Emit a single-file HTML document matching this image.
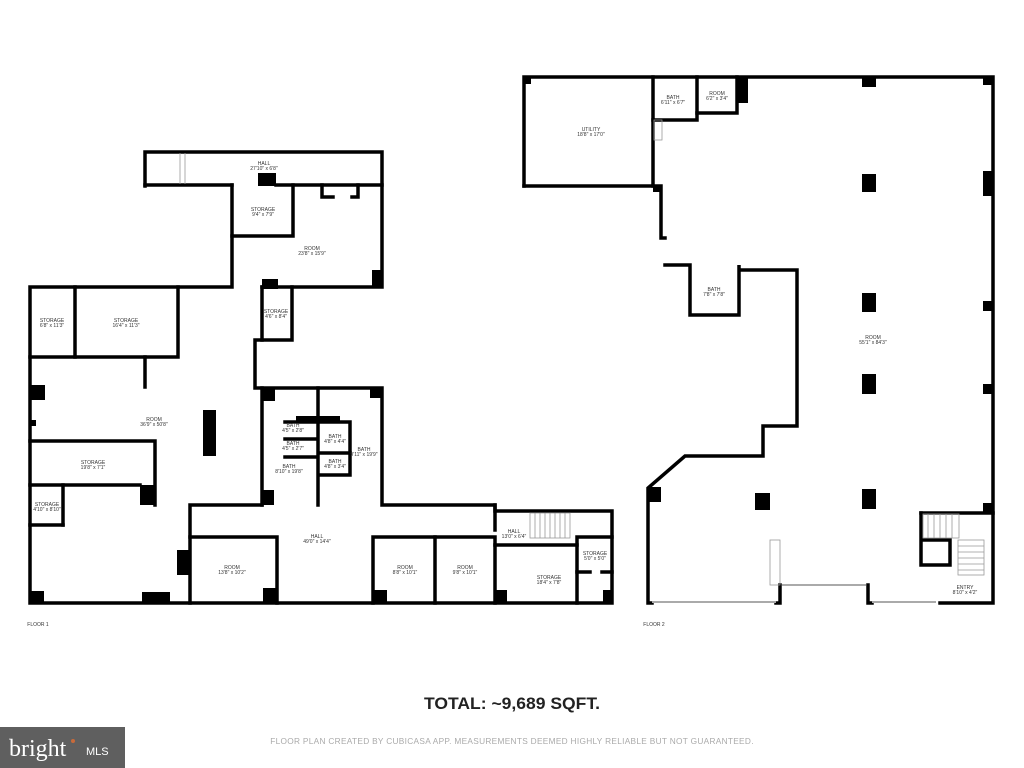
<!DOCTYPE html>
<html><head><meta charset="utf-8"><style>
html,body{margin:0;padding:0;background:#fff;}
body{width:1024px;height:768px;position:relative;overflow:hidden;font-family:"Liberation Sans",sans-serif;}
svg{position:absolute;left:0;top:0;}
.t{font-family:"Liberation Sans",sans-serif;font-size:5px;fill:#333;text-anchor:middle;}
</style></head><body>
<svg width="1024" height="768" viewBox="0 0 1024 768">
<g fill="none" stroke="#000" stroke-width="3.5" stroke-linecap="square">
<!-- FLOOR 1 -->
<polyline points="145,186 145,152 382,152 382,287 262,287"/>
<line x1="145" y1="185" x2="232" y2="185"/>
<line x1="276" y1="185" x2="382" y2="185"/>
<polyline points="232,185 232,287 30,287 30,603 612,603 612,511 495,511 495,505 382,505 382,388 255,388 255,340 292,340 292,287"/>
<line x1="262" y1="287" x2="262" y2="340"/>
<polyline points="232,236 293,236 293,185"/>
<polyline points="322,185 322,197 333,197"/>
<polyline points="352,197 358,197 358,185"/>
<polyline points="30,357 178,357 178,287"/>
<line x1="75" y1="287" x2="75" y2="357"/>
<line x1="145" y1="357" x2="145" y2="387"/>
<polyline points="30,441 155,441 155,505"/>
<line x1="30" y1="485" x2="140" y2="485"/>
<line x1="63" y1="485" x2="63" y2="525"/>
<line x1="30" y1="525" x2="63" y2="525"/>
<line x1="262" y1="388" x2="262" y2="505"/>
<line x1="318" y1="388" x2="318" y2="505"/>
<polyline points="285,422 316,422"/>
<polyline points="285,439 316,439"/>
<polyline points="285,457 316,457"/>
<polyline points="320,422 350,422 350,475 320,475"/>
<line x1="320" y1="453" x2="350" y2="453"/>
<polyline points="190,603 190,505 262,505"/>
<polyline points="190,537 277,537 277,603"/>
<polyline points="373,603 373,537 495,537 495,603"/>
<line x1="435" y1="537" x2="435" y2="603"/>
<line x1="495" y1="505" x2="495" y2="530"/>
<line x1="495" y1="545" x2="577" y2="545"/>
<polyline points="577,603 577,537 612,537"/>
<line x1="577" y1="572" x2="590" y2="572"/>
<line x1="602" y1="572" x2="612" y2="572"/>
<!-- FLOOR 2 -->
<polyline points="524,186 524,77 993,77 993,603 940,603"/>
<polyline points="524,186 653,186 653,77"/>
<polyline points="653,120 697,120 697,77"/>
<polyline points="697,113 737,113 737,77"/>
<polyline points="653,186 661,186 661,238 665,238"/>
<polyline points="665,265 690,265 690,315 739,315 739,265 739,270 797,270 797,426 763,426 763,456 685,456 648,488 648,603 652,603"/>
<polyline points="776,603 780,603 780,585"/>
<polyline points="868,585 868,603 872,603"/>
<polyline points="921,513 921,565 950,565 950,540 921,540"/>
<line x1="921" y1="513" x2="993" y2="513"/>
</g>
<g fill="#000">
<rect x="258" y="173" width="18" height="13"/>
<rect x="372" y="270" width="11" height="18"/>
<rect x="262" y="279" width="16" height="10"/>
<rect x="30" y="385" width="15" height="15"/>
<rect x="30" y="420" width="6" height="6"/>
<rect x="203" y="410" width="13" height="46"/>
<rect x="140" y="485" width="16" height="20"/>
<rect x="262" y="388" width="13" height="13"/>
<rect x="370" y="388" width="12" height="10"/>
<rect x="296" y="416" width="44" height="7"/>
<rect x="262" y="490" width="12" height="15"/>
<rect x="177" y="550" width="13" height="25"/>
<rect x="263" y="588" width="14" height="15"/>
<rect x="30" y="591" width="14" height="12"/>
<rect x="142" y="592" width="28" height="11"/>
<rect x="373" y="590" width="14" height="13"/>
<rect x="495" y="590" width="12" height="13"/>
<rect x="603" y="590" width="9" height="13"/>
<rect x="737" y="77" width="11" height="26"/>
<rect x="862" y="77" width="14" height="10"/>
<rect x="862" y="174" width="14" height="18"/>
<rect x="862" y="293" width="14" height="19"/>
<rect x="862" y="374" width="14" height="20"/>
<rect x="862" y="489" width="14" height="20"/>
<rect x="983" y="171" width="10" height="25"/>
<rect x="983" y="301" width="10" height="10"/>
<rect x="983" y="384" width="10" height="10"/>
<rect x="983" y="503" width="10" height="10"/>
<rect x="983" y="77" width="10" height="8"/>
<rect x="755" y="493" width="15" height="17"/>
<rect x="648" y="487" width="13" height="15"/>
<rect x="524" y="77" width="7" height="7"/>
<rect x="653" y="186" width="8" height="6"/>
</g>
<g fill="none" stroke="#999" stroke-width="0.8">
<rect x="770" y="540" width="10" height="45"/>
<rect x="530" y="513" width="40" height="25"/>
<line x1="535" y1="513" x2="535" y2="538"/><line x1="540" y1="513" x2="540" y2="538"/><line x1="545" y1="513" x2="545" y2="538"/><line x1="550" y1="513" x2="550" y2="538"/><line x1="555" y1="513" x2="555" y2="538"/><line x1="560" y1="513" x2="560" y2="538"/><line x1="565" y1="513" x2="565" y2="538"/>
<rect x="923" y="514" width="36" height="24"/>
<line x1="928" y1="514" x2="928" y2="538"/><line x1="934" y1="514" x2="934" y2="538"/><line x1="940" y1="514" x2="940" y2="538"/><line x1="946" y1="514" x2="946" y2="538"/><line x1="952" y1="514" x2="952" y2="538"/>
<rect x="958" y="540" width="26" height="35"/>
<line x1="958" y1="546" x2="984" y2="546"/><line x1="958" y1="552" x2="984" y2="552"/><line x1="958" y1="558" x2="984" y2="558"/><line x1="958" y1="564" x2="984" y2="564"/><line x1="958" y1="570" x2="984" y2="570"/>
<line x1="180" y1="153" x2="180" y2="184"/><line x1="185" y1="153" x2="185" y2="184"/>
<rect x="654" y="120" width="8" height="20"/>
</g>
<g fill="none" stroke="#aaa" stroke-width="2">
<line x1="652" y1="602" x2="776" y2="602"/>
<line x1="782" y1="585" x2="866" y2="585"/>
<line x1="872" y1="602" x2="936" y2="602"/>
</g>
<g class="t">
<text x="264" y="165">HALL</text><text x="264" y="170">27'10" x 6'8"</text>
<text x="263" y="211">STORAGE</text><text x="263" y="216">9'4" x 7'9"</text>
<text x="312" y="250">ROOM</text><text x="312" y="255">23'8" x 15'9"</text>
<text x="52" y="322">STORAGE</text><text x="52" y="327">6'8" x 11'3"</text>
<text x="126" y="322">STORAGE</text><text x="126" y="327">16'4" x 11'3"</text>
<text x="276" y="313">STORAGE</text><text x="276" y="318">4'6" x 8'4"</text>
<text x="154" y="421">ROOM</text><text x="154" y="426">36'9" x 50'8"</text>
<text x="93" y="464">STORAGE</text><text x="93" y="469">19'8" x 7'1"</text>
<text x="47" y="506">STORAGE</text><text x="47" y="511">4'10" x 8'10"</text>
<text x="293" y="427">BATH</text><text x="293" y="432">4'5" x 2'8"</text>
<text x="293" y="445">BATH</text><text x="293" y="450">4'5" x 2'7"</text>
<text x="289" y="468">BATH</text><text x="289" y="473">8'10" x 19'8"</text>
<text x="335" y="438">BATH</text><text x="335" y="443">4'8" x 4'4"</text>
<text x="335" y="463">BATH</text><text x="335" y="468">4'8" x 3'4"</text>
<text x="364" y="451">BATH</text><text x="364" y="456">9'11" x 19'9"</text>
<text x="317" y="538">HALL</text><text x="317" y="543">49'0" x 14'4"</text>
<text x="232" y="569">ROOM</text><text x="232" y="574">13'8" x 10'2"</text>
<text x="405" y="569">ROOM</text><text x="405" y="574">8'8" x 10'1"</text>
<text x="465" y="569">ROOM</text><text x="465" y="574">9'8" x 10'1"</text>
<text x="514" y="533">HALL</text><text x="514" y="538">13'0" x 6'4"</text>
<text x="595" y="555">STORAGE</text><text x="595" y="560">5'0" x 5'0"</text>
<text x="549" y="579">STORAGE</text><text x="549" y="584">18'4" x 7'8"</text>
<text x="591" y="131">UTILITY</text><text x="591" y="136">18'8" x 17'0"</text>
<text x="673" y="99">BATH</text><text x="673" y="104">6'11" x 6'7"</text>
<text x="717" y="95">ROOM</text><text x="717" y="100">6'2" x 3'4"</text>
<text x="714" y="291">BATH</text><text x="714" y="296">7'8" x 7'8"</text>
<text x="873" y="339">ROOM</text><text x="873" y="344">55'1" x 84'3"</text>
<text x="965" y="589">ENTRY</text><text x="965" y="594">8'10" x 4'2"</text>
<text x="38" y="626">FLOOR 1</text>
<text x="654" y="626">FLOOR 2</text>
</g>
<text x="512" y="709" font-family="Liberation Sans, sans-serif" font-size="17" font-weight="bold" fill="#222" text-anchor="middle" textLength="176" lengthAdjust="spacingAndGlyphs">TOTAL: ~9,689 SQFT.</text>
<text x="512" y="744" font-family="Liberation Sans, sans-serif" font-size="8.3" fill="#aaa" text-anchor="middle" letter-spacing="0.3">FLOOR PLAN CREATED BY CUBICASA APP. MEASUREMENTS DEEMED HIGHLY RELIABLE BUT NOT GUARANTEED.</text>
<rect x="0" y="727" width="125" height="41" fill="#5f5f5f"/>
<text x="9" y="756" font-family="Liberation Serif, serif" font-size="24" fill="#fff">bright</text>
<text x="86" y="755" font-family="Liberation Sans, sans-serif" font-size="11" fill="#fff">MLS</text>
<circle cx="73" cy="741" r="2" fill="#c86a3a"/>
</svg>
</body></html>
